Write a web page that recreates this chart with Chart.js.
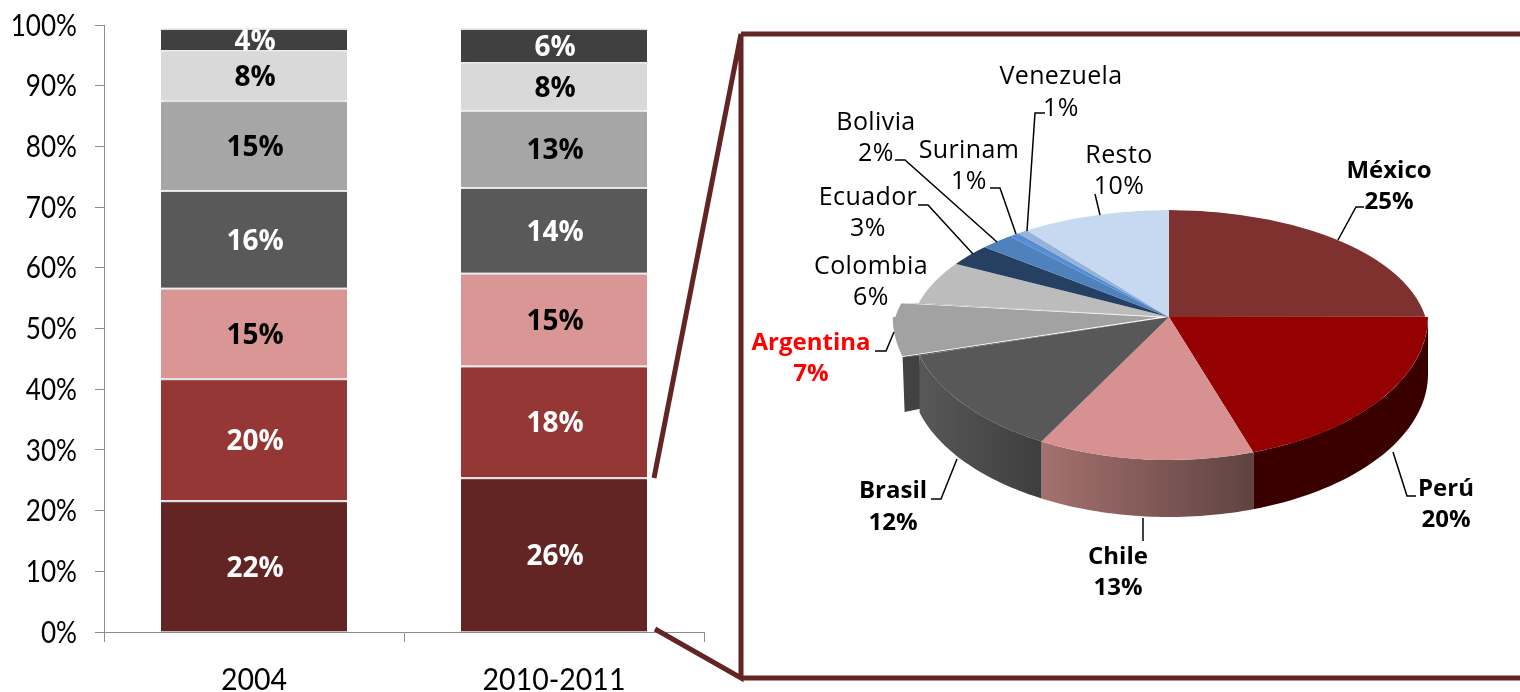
<!DOCTYPE html>
<html>
<head>
<meta charset="utf-8">
<title>Chart</title>
<script src="https://cdn.jsdelivr.net/npm/chart.js@4"></script>
<style>
    html, body { margin: 0; padding: 0; background: #fff; overflow: hidden; }
    canvas { position: absolute; top: 0; }
    #barchart { left: 0; }
    #piechart { left: 640px; }
</style>
</head>
<body>
<canvas id="barchart" width="710" height="692"></canvas>
<canvas id="piechart" width="880" height="692"></canvas>
<script>
// ------ data ------
const periods = ['2004', '2010-2011'];
const yTicks = [0, 10, 20, 30, 40, 50, 60, 70, 80, 90, 100];

const stackMexico = [21.7, 25.5];
const stackPeru = [20.1, 18.4];
const stackChile = [14.9, 15.3];
const stackBrasil = [16.1, 14.1];
const stackArgentina = [14.8, 12.7];
const stackColombia = [8.3, 7.9];
const stackOtros = [3.6, 5.6];

const pieNames = ['México', 'Perú', 'Chile', 'Brasil', 'Argentina', 'Colombia', 'Ecuador', 'Bolivia', 'Surinam', 'Venezuela', 'Resto'];
const pieValues = [25, 19.8, 13.49, 12.49, 6.5, 6.49, 3.2, 2.3, 0.7, 0.7, 9.5];

// ------ styles ------
const tickFont = 'Lato, sans-serif';
const labelFont = '"Open Sans", sans-serif';
const stackColors = ['#632523', '#953735', '#d99694', '#595959', '#a6a6a6', '#d9d9d9', '#404040'];
const stackTextColors = ['#fff', '#fff', '#000', '#fff', '#000', '#000', '#fff'];
const pieColors = ['#7f3130', '#950000', '#d69190', '#585858', '#a2a2a2', '#bcbcbc', '#254061', '#4f81bd', '#558ed5', '#95b3d7', '#c6d9f1'];
const pieOffsets = [0, 0, 0, 0, 43, 0, 0, 0, 0, 0, 0];

const axisColor = '#8c8c8c';
const frameColor = '#632523';
const pieCenterX = 529, pieCenterY = 317; // en el canvas de la torta: x 1169
const pieRadius = 259;
const scaleTop = 107 / 259, scaleBottom = 143 / 259; // perspectiva
const pieDepth = 57;
// el borde de atras es una elipse un poco mas cerrada que el circulo escalado
const backRimCenterY = 335, backRimRadiusY = 125;

// posicion de textos y lineas guia (coordenadas de pagina)
const pieLabelLayout = [
    { x: 1389, y: 171, dy: 31, bold: true, line: [[1338, 240], [1356, 207], [1364, 207]] },
    { x: 1446, y: 489, dy: 31, bold: true, line: [[1393, 452], [1407, 496], [1416, 496]] },
    { x: 1118, y: 557, dy: 31, bold: true, line: [[1143, 518], [1143, 541]] },
    { x: 893, y: 491, dy: 32, bold: true, line: [[957, 459], [941, 499], [931, 499]] },
    { x: 811, y: 343, dy: 31, bold: true, color: '#ff0000', line: [[894, 332], [886, 351], [875, 351]] },
    { x: 871, y: 267, dy: 31 },
    { x: 868, y: 198, dy: 31, line: [[918, 205], [928, 205], [973, 254]] },
    { x: 876, y: 123, dy: 31, line: [[895, 160], [905, 160], [997, 242]] },
    { x: 969, y: 151, dy: 31, line: [[990, 188], [1000, 188], [1016, 234]] },
    { x: 1061, y: 77, dy: 32, line: [[1045, 113], [1035, 113], [1027, 231]] },
    { x: 1119, y: 156, dy: 31, line: [[1095, 194], [1100, 215]] }
];

// ==========================================
// 1. Barras apiladas
// ==========================================
const barShadow = {
    id: 'barShadow',
    beforeDatasetsDraw(chart) {
        const ctx = chart.ctx;
        ctx.save();
        ctx.shadowColor = 'rgba(0,0,0,0.3)';
        ctx.shadowBlur = 4;
    },
    afterDatasetsDraw(chart) {
        chart.ctx.restore();
    }
};

const barLabels = {
    id: 'barLabels',
    afterDatasetsDraw(chart) {
        const ctx = chart.ctx;
        chart.data.datasets.forEach((ds, i) => {
            chart.getDatasetMeta(i).data.forEach((bar, j) => {
                ctx.save();
                // el 4% queda cortado por el borde de su barra
                ctx.beginPath();
                ctx.rect(bar.x - bar.width / 2, bar.y, bar.width, bar.base - bar.y);
                ctx.clip();
                ctx.font = 'bold 28px ' + labelFont;
                ctx.fillStyle = stackTextColors[i];
                ctx.textAlign = 'center';
                ctx.textBaseline = 'middle';
                ctx.fillText(Math.round(ds.data[j]) + '%', bar.x + 1, (bar.y + bar.base) / 2 + 3);
                ctx.restore();
            });
        });
    }
};

// las etiquetas de los ejes son angostas: se dibujan con escala horizontal
function narrowText(ctx, text, x, y, squeeze, align) {
    ctx.save();
    ctx.translate(x, y);
    ctx.scale(squeeze, 1);
    ctx.font = '30px ' + tickFont;
    ctx.fillStyle = '#000';
    ctx.textAlign = align;
    ctx.textBaseline = 'middle';
    ctx.fillText(text, 0, 0);
    ctx.restore();
}

const axisLabels = {
    id: 'axisLabels',
    afterDraw(chart) {
        const ctx = chart.ctx;
        yTicks.forEach(v => {
            narrowText(ctx, v + '%', 77, chart.scales.y.getPixelForValue(v) + 1, 0.87, 'right');
        });
        periods.forEach((p, i) => {
            narrowText(ctx, p, chart.scales.x.getPixelForTick(i), 680, 0.95, 'center');
        });
    }
};

const stackSeries = [stackMexico, stackPeru, stackChile, stackBrasil, stackArgentina, stackColombia, stackOtros];

new Chart(document.getElementById('barchart'), {
    type: 'bar',
    data: {
        labels: periods,
        datasets: stackSeries.map((values, i) => ({
            label: pieNames[i] || 'Otros',
            data: values,
            backgroundColor: stackColors[i],
            borderColor: '#fff',
            borderWidth: { top: 2 },
            borderSkipped: false,
            categoryPercentage: 1,
            barPercentage: 0.62
        }))
    },
    options: {
        responsive: false,
        animation: false,
        events: [],
        layout: { padding: { top: 25, right: 6 } },
        plugins: { legend: { display: false }, tooltip: { enabled: false } },
        scales: {
            x: {
                stacked: true,
                afterFit(scale) { scale.height = 60; },
                grid: { offset: true, drawOnChartArea: false, tickLength: 10, color: axisColor },
                border: { color: axisColor },
                ticks: { display: false }
            },
            y: {
                stacked: true,
                min: 0,
                max: 100,
                afterFit(scale) { scale.width = 104; },
                afterBuildTicks(scale) { scale.ticks = yTicks.map(v => ({ value: v })); },
                grid: { drawOnChartArea: false, tickLength: 9, color: axisColor },
                border: { color: axisColor },
                ticks: { display: false }
            }
        }
    },
    plugins: [barShadow, barLabels, axisLabels]
});

// ==========================================
// 2. Torta con perspectiva
// ==========================================
const toPageX = x => x - 640;

function radiusBump(arc) {
    // mismo ajuste de radio que hace ArcElement con el offset
    const off = (arc.options.offset || 0) / 4;
    return off * (1 - Math.sin(Math.min(Math.PI, arc.endAngle - arc.startAngle)));
}

function rimPoints(arc, from, to, dy) {
    const off = (arc.options.offset || 0) / 4;
    const mid = (arc.startAngle + arc.endAngle) / 2;
    const radius = arc.outerRadius + radiusBump(arc);
    const ox = arc.x + Math.cos(mid) * off;
    const oy = Math.sin(mid) * off;
    const pts = [];
    for (let k = 0; k <= 40; k++) {
        const a = from + (to - from) * k / 40;
        const ry = Math.sin(a) * radius + oy;
        pts.push([ox + Math.cos(a) * radius, arc.y + ry * (ry < 0 ? scaleTop : scaleBottom) + dy]);
    }
    return pts;
}

function fillPoly(ctx, pts, style) {
    ctx.beginPath();
    pts.forEach((p, k) => k ? ctx.lineTo(p[0], p[1]) : ctx.moveTo(p[0], p[1]));
    ctx.closePath();
    ctx.fillStyle = style;
    ctx.fill();
}

function wallFill(ctx, index, pts) {
    if (index === 1) return '#3a0000';
    const left = Math.min(pts[0][0], pts[pts.length - 1][0]);
    const right = Math.max(pts[0][0], pts[pts.length - 1][0]);
    const grad = ctx.createLinearGradient(left, 0, right, 0);
    if (index === 2) { // Chile
        grad.addColorStop(0, '#a5716f');
        grad.addColorStop(1, '#5f4341');
    } else { // Brasil
        grad.addColorStop(0, '#585858');
        grad.addColorStop(1, '#3e3e3e');
    }
    return grad;
}

const pie3d = {
    id: 'pie3d',
    beforeDatasetDraw(chart, args) {
        const ctx = chart.ctx;
        const arcs = args.meta.data;
        const cx = arcs[0].x, cy = arcs[0].y;
        const brasil = arcs[3], argentina = arcs[4], colombia = arcs[5];

        const brasilCorner = rimPoints(brasil, brasil.endAngle, brasil.endAngle, 0)[0];
        const argLow = rimPoints(argentina, argentina.startAngle, argentina.startAngle, 0)[0];
        const argHigh = rimPoints(argentina, argentina.endAngle, argentina.endAngle, 0)[0];
        const colCorner = rimPoints(colombia, colombia.startAngle, colombia.startAngle, 0)[0];
        const inward = p => [cx + (p[0] - cx) * 0.96, cy + (p[1] - cy) * 0.96];

        // pared de Argentina: un corte casi recto detras de Brasil
        fillPoly(ctx, [
            argLow,
            [argLow[0] + 2, argLow[1] + 55],
            [brasilCorner[0] + 2, brasilCorner[1] + 53],
            brasilCorner
        ], '#424242');

        // paredes del frente
        [1, 2, 3].forEach(i => {
            const arc = arcs[i];
            const from = Math.max(arc.startAngle, 0);
            const to = Math.min(arc.endAngle, Math.PI);
            const top = rimPoints(arc, from, to, 0);
            const bottom = rimPoints(arc, from, to, pieDepth);
            fillPoly(ctx, top.concat(bottom.reverse()), wallFill(ctx, i, top));
        });

        // lo que deja a la vista la porcion separada
        fillPoly(ctx, [[cx, cy], argLow, brasilCorner], pieColors[3]);
        fillPoly(ctx, [[cx, cy], inward(colCorner), inward(argHigh)], '#8c8c8c');

        // cara superior: mitad de adelante
        ctx.save();
        ctx.beginPath();
        ctx.rect(0, cy, chart.width, chart.height - cy);
        ctx.clip();
        ctx.translate(0, cy);
        ctx.scale(1, scaleBottom);
        ctx.translate(0, -cy);
        arcs.forEach(arc => arc.draw(ctx));
        ctx.restore();

        // cara superior: mitad de atras, recortada por su elipse
        arcs.forEach(arc => {
            ctx.save();
            ctx.beginPath();
            ctx.rect(0, 0, chart.width, cy);
            ctx.clip();
            const shift = (arc.options.offset || 0) / 4 + radiusBump(arc);
            ctx.beginPath();
            ctx.ellipse(cx - shift, backRimCenterY, arc.outerRadius, backRimRadiusY, 0, 0, Math.PI * 2);
            ctx.clip();
            ctx.translate(0, cy);
            ctx.scale(1, scaleTop);
            ctx.translate(0, -cy);
            arc.draw(ctx);
            ctx.restore();
        });
        return false;
    },
    afterDraw(chart) {
        const ctx = chart.ctx;

        // marco y conectores
        ctx.save();
        ctx.strokeStyle = frameColor;
        ctx.lineWidth = 5;
        ctx.lineJoin = 'miter';
        ctx.beginPath();
        ctx.moveTo(toPageX(654), 478);
        ctx.lineTo(toPageX(741), 34);
        ctx.lineTo(toPageX(741), 678);
        ctx.lineTo(toPageX(655), 629);
        ctx.moveTo(toPageX(741), 34);
        ctx.lineTo(chart.width, 34);
        ctx.moveTo(toPageX(741), 678);
        ctx.lineTo(chart.width, 678);
        ctx.stroke();
        ctx.restore();

        // textos y lineas guia
        pieLabelLayout.forEach((lay, i) => {
            ctx.save();
            if (lay.line) {
                ctx.strokeStyle = '#000';
                ctx.lineWidth = 1.5;
                ctx.beginPath();
                lay.line.forEach((p, k) => k ? ctx.lineTo(toPageX(p[0]), p[1]) : ctx.moveTo(toPageX(p[0]), p[1]));
                ctx.stroke();
            }
            ctx.font = (lay.bold ? 'bold 24px ' : '25px ') + labelFont;
            ctx.letterSpacing = lay.bold ? '0px' : '0.4px';
            ctx.fillStyle = lay.color || '#000';
            ctx.textAlign = 'center';
            ctx.textBaseline = 'middle';
            ctx.fillText(pieNames[i], toPageX(lay.x), lay.y);
            ctx.fillText(Math.round(pieValues[i]) + '%', toPageX(lay.x), lay.y + lay.dy);
            ctx.restore();
        });
    }
};

new Chart(document.getElementById('piechart'), {
    type: 'pie',
    data: {
        labels: pieNames,
        datasets: [{
            data: pieValues,
            backgroundColor: pieColors,
            borderWidth: 0,
            offset: pieOffsets,
            radius: pieRadius
        }]
    },
    options: {
        responsive: false,
        animation: false,
        events: [],
        layout: { padding: { left: 2 * pieCenterX - 880, bottom: 692 - 2 * pieCenterY } },
        plugins: { legend: { display: false }, tooltip: { enabled: false } }
    },
    plugins: [pie3d]
});
</script>
</body>
</html>
